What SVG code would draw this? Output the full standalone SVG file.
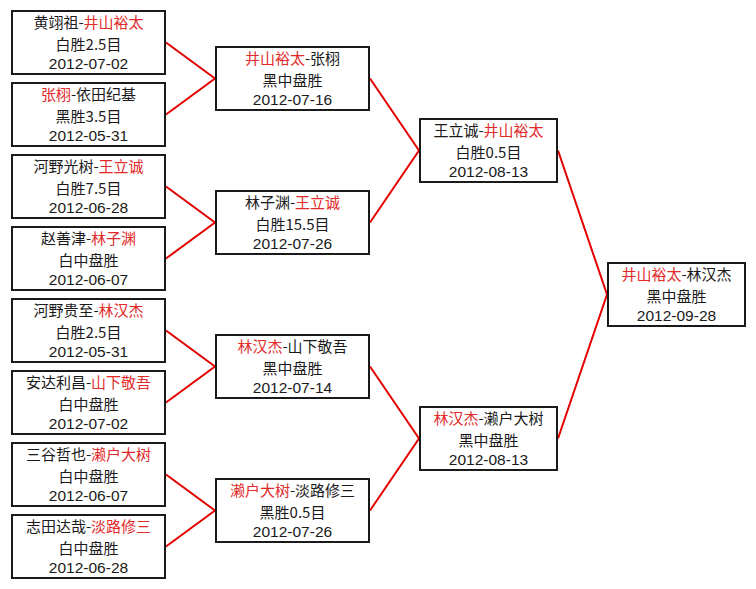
<svg xmlns="http://www.w3.org/2000/svg" width="756" height="589" viewBox="0 0 756 589">
<style>
.bg{fill:#ffffff}
.box{fill:none;stroke:#1a1a1a;stroke-width:2}
.t{font-family:"Noto Sans CJK SC","Liberation Sans",sans-serif;font-size:15px;fill:#1a1a1a;text-anchor:middle}
.d{font-family:"Liberation Sans","Noto Sans CJK SC",sans-serif;font-size:15.5px;fill:#1a1a1a;text-anchor:middle}
.r{fill:#e22a2a}
.c{fill:none;stroke:#e40000;stroke-width:2}
</style>
<rect class="bg" x="0" y="0" width="756" height="589"/>
<g id="connectors">
<polyline class="c" points="166,42.5 215,78.5 166,114.5"/>
<polyline class="c" points="166,186.5 215,222.5 166,258.5"/>
<polyline class="c" points="166,330.5 215,366.5 166,402.5"/>
<polyline class="c" points="166,474.5 215,510.5 166,546.5"/>
<polyline class="c" points="370,78.5 419,150.5 370,222.5"/>
<polyline class="c" points="370,366.5 419,438.5 370,510.5"/>
<polyline class="c" points="558,150.5 607,294.5 558,438.5"/>
</g>
<g id="r1-1">
<rect class="box" x="12" y="11" width="153" height="63"/>
<text class="t" x="88.5" y="28.4">黄翊祖-<tspan class="r">井山裕太</tspan></text>
<text class="t" x="88.5" y="50.3">白胜2.5目</text>
<text class="d" x="88.5" y="68.8">2012-07-02</text>
</g>
<g id="r1-2">
<rect class="box" x="12" y="83" width="153" height="63"/>
<text class="t" x="88.5" y="100.4"><tspan class="r">张栩</tspan>-依田纪基</text>
<text class="t" x="88.5" y="122.3">黑胜3.5目</text>
<text class="d" x="88.5" y="140.8">2012-05-31</text>
</g>
<g id="r1-3">
<rect class="box" x="12" y="155" width="153" height="63"/>
<text class="t" x="88.5" y="172.4">河野光树-<tspan class="r">王立诚</tspan></text>
<text class="t" x="88.5" y="194.3">白胜7.5目</text>
<text class="d" x="88.5" y="212.8">2012-06-28</text>
</g>
<g id="r1-4">
<rect class="box" x="12" y="227" width="153" height="63"/>
<text class="t" x="88.5" y="244.4">赵善津-<tspan class="r">林子渊</tspan></text>
<text class="t" x="88.5" y="266.3">白中盘胜</text>
<text class="d" x="88.5" y="284.8">2012-06-07</text>
</g>
<g id="r1-5">
<rect class="box" x="12" y="299" width="153" height="63"/>
<text class="t" x="88.5" y="316.4">河野贵至-<tspan class="r">林汉杰</tspan></text>
<text class="t" x="88.5" y="338.3">白胜2.5目</text>
<text class="d" x="88.5" y="356.8">2012-05-31</text>
</g>
<g id="r1-6">
<rect class="box" x="12" y="371" width="153" height="63"/>
<text class="t" x="88.5" y="388.4">安达利昌-<tspan class="r">山下敬吾</tspan></text>
<text class="t" x="88.5" y="410.3">白中盘胜</text>
<text class="d" x="88.5" y="428.8">2012-07-02</text>
</g>
<g id="r1-7">
<rect class="box" x="12" y="443" width="153" height="63"/>
<text class="t" x="88.5" y="460.4">三谷哲也-<tspan class="r">濑户大树</tspan></text>
<text class="t" x="88.5" y="482.3">白中盘胜</text>
<text class="d" x="88.5" y="500.8">2012-06-07</text>
</g>
<g id="r1-8">
<rect class="box" x="12" y="515" width="153" height="63"/>
<text class="t" x="88.5" y="532.4">志田达哉-<tspan class="r">淡路修三</tspan></text>
<text class="t" x="88.5" y="554.3">白中盘胜</text>
<text class="d" x="88.5" y="572.8">2012-06-28</text>
</g>
<g id="r2-1">
<rect class="box" x="216" y="47" width="153" height="63"/>
<text class="t" x="292.5" y="64.4"><tspan class="r">井山裕太</tspan>-张栩</text>
<text class="t" x="292.5" y="86.3">黑中盘胜</text>
<text class="d" x="292.5" y="104.8">2012-07-16</text>
</g>
<g id="r2-2">
<rect class="box" x="216" y="191" width="153" height="63"/>
<text class="t" x="292.5" y="208.4">林子渊-<tspan class="r">王立诚</tspan></text>
<text class="t" x="292.5" y="230.3">白胜15.5目</text>
<text class="d" x="292.5" y="248.8">2012-07-26</text>
</g>
<g id="r2-3">
<rect class="box" x="216" y="335" width="153" height="63"/>
<text class="t" x="292.5" y="352.4"><tspan class="r">林汉杰</tspan>-山下敬吾</text>
<text class="t" x="292.5" y="374.3">黑中盘胜</text>
<text class="d" x="292.5" y="392.8">2012-07-14</text>
</g>
<g id="r2-4">
<rect class="box" x="216" y="479" width="153" height="63"/>
<text class="t" x="292.5" y="496.4"><tspan class="r">濑户大树</tspan>-淡路修三</text>
<text class="t" x="292.5" y="518.3">黑胜0.5目</text>
<text class="d" x="292.5" y="536.8">2012-07-26</text>
</g>
<g id="r3-1">
<rect class="box" x="420" y="119" width="137" height="63"/>
<text class="t" x="488.5" y="136.4">王立诚-<tspan class="r">井山裕太</tspan></text>
<text class="t" x="488.5" y="158.3">白胜0.5目</text>
<text class="d" x="488.5" y="176.8">2012-08-13</text>
</g>
<g id="r3-2">
<rect class="box" x="420" y="407" width="137" height="63"/>
<text class="t" x="488.5" y="424.4"><tspan class="r">林汉杰</tspan>-濑户大树</text>
<text class="t" x="488.5" y="446.3">黑中盘胜</text>
<text class="d" x="488.5" y="464.8">2012-08-13</text>
</g>
<g id="final">
<rect class="box" x="608" y="263" width="137" height="63"/>
<text class="t" x="676.5" y="280.4"><tspan class="r">井山裕太</tspan>-林汉杰</text>
<text class="t" x="676.5" y="302.3">黑中盘胜</text>
<text class="d" x="676.5" y="320.8">2012-09-28</text>
</g>
</svg>
